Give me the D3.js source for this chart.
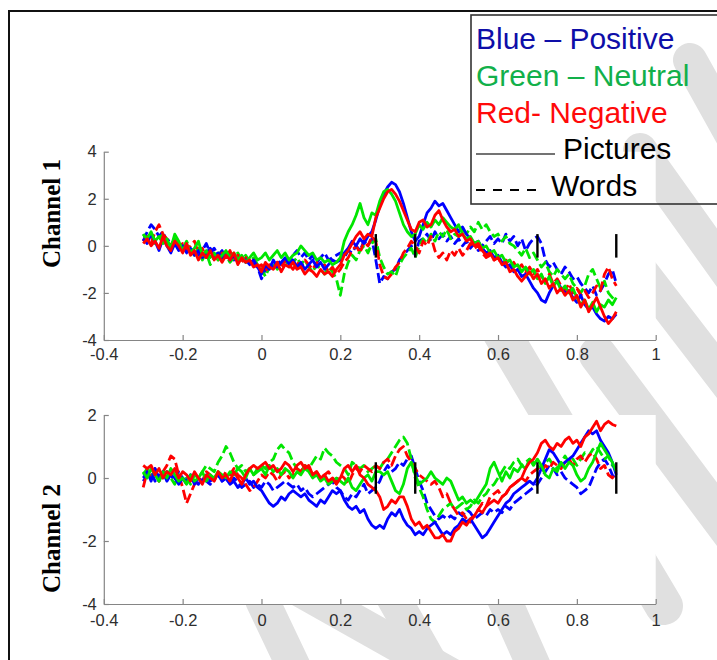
<!DOCTYPE html>
<html>
<head>
<meta charset="utf-8">
<script src="https://cdn.jsdelivr.net/npm/d3@7"></script>
<style>
  html, body { margin: 0; padding: 0; background: #fff; }
  svg { display: block; }
</style>
</head>
<body>
<svg id="chart" width="717" height="660"></svg>
<script>
// Time axis (s): samples every 10 ms from -0.3 to 0.9
const sampleStart = -0.3;
const sampleStep = 0.01;

// Channel 1 – pictures (solid)
const ch1PositivePictures = [
  0.3, 0.1, 0.5, 0.2, -0.2, 0.3, 0.0, -0.3, 0.1, -0.2,
  0.0, -0.3, -0.1, -0.4, -0.2, -0.5, -0.3, -0.1, -0.4, -0.3,
  -0.5, -0.3, -0.6, -0.4, -0.7, -0.5, -0.6, -0.8, -0.6, -0.9,
  -1.2, -0.8, -1.0, -0.6, -0.9, -0.7, -0.5, -0.8, -0.6, -0.9,
  -0.7, -1.0, -0.8, -0.6, -0.9, -0.7, -1.0, -0.8, -0.6, -0.7,
  -0.6, -0.3, -0.1, 0.2, 0.0, 0.3, 0.1, 0.4, 0.6, 1.1,
  1.7, 2.2, 2.5, 2.7, 2.6, 2.3, 1.8, 1.2, 0.6, 0.2,
  0.4, 0.9, 1.4, 1.6, 1.9, 1.7, 1.8, 1.5, 1.2, 0.9,
  0.6, 0.8, 0.5, 0.3, 0.1, 0.2, -0.1, -0.3, -0.2, -0.5,
  -0.4, -0.7, -0.9, -0.8, -1.1, -1.0, -1.3, -1.2, -1.5, -1.8,
  -2.0, -2.3, -2.4, -2.0, -1.7, -1.5, -1.8, -2.0, -1.9, -2.2,
  -2.4, -2.1, -2.5, -2.7, -2.6, -2.9, -3.1, -3.2, -3.0, -3.1,
  -2.9
];
const ch1NeutralPictures = [
  0.5, 0.3, 0.6, 0.2, 0.4, 0.1, 0.3, -0.1, 0.5, 0.2,
  -0.2, 0.1, -0.3, -0.1, 0.2, -0.4, -0.2, -0.5, -0.3, -0.6,
  -0.4, -0.2, -0.5, -0.3, -0.6, -0.4, -0.7, -0.5, -0.3, -0.6,
  -0.5, -0.3, -0.6, -0.4, -0.2, -0.5, -0.3, -0.6, -0.4, -0.3,
  0.0, -0.2, -0.4, -0.3, -0.6, -0.5, -0.7, -0.6, -0.8, -0.7,
  -0.5, 0.2, 0.6, 0.9, 1.3, 1.8, 1.2, 0.9, 1.4, 1.3,
  1.9, 2.3, 2.4, 2.2, 1.9, 1.4, 0.9, 0.6, 0.4, 0.5,
  0.9, 0.7, 1.0, 0.8, 1.1, 0.9, 1.2, 1.0, 0.8, 0.7,
  0.9, 0.5, 0.3, 0.4, 0.1, 0.2, -0.1, 0.0, -0.3, -0.2,
  -0.5, -0.4, -0.7, -0.6, -0.9, -0.8, -1.1, -0.9, -1.2, -1.0,
  -1.4, -1.2, -1.6, -1.3, -1.7, -1.5, -1.9, -1.7, -2.0, -1.8,
  -2.2, -2.5, -2.3, -2.7, -2.4, -2.8, -2.5, -2.6, -2.3, -2.5,
  -2.2
];
const ch1NegativePictures = [
  0.1, 0.3, 0.0, 0.2, -0.1, 0.4, 0.0, -0.2, 0.2, 0.0,
  -0.3, 0.1, -0.4, -0.2, -0.6, -0.3, -0.5, -0.2, -0.6, -0.4,
  -0.7, -0.4, -0.6, -0.3, -0.8, -0.5, -0.7, -0.6, -0.9, -0.8,
  -1.1, -0.7, -0.9, -1.0, -0.7, -1.1, -0.8, -0.9, -0.7, -1.0,
  -0.9, -1.2, -1.0, -1.1, -1.3, -1.0, -1.2, -1.1, -1.3, -1.0,
  -0.8, -0.4, -0.2, 0.1, 0.4, 0.6, 0.3, 0.5, 0.4, 1.2,
  1.6, 2.0, 2.3, 2.4, 2.2, 1.9, 1.5, 1.1, 0.7, 0.6,
  1.0, 1.1, 0.8, 0.9, 1.3, 1.5, 1.1, 0.8, 0.6, 0.7,
  0.4, 0.5, 0.2, 0.3, 0.0, 0.1, -0.2, -0.4, -0.3, -0.6,
  -0.5, -0.8, -0.7, -1.1, -1.0, -1.3, -1.5, -1.3, -1.1, -1.4,
  -1.2, -1.6, -1.4, -1.8, -1.6, -2.0, -1.8, -2.1, -1.9, -2.3,
  -2.1, -2.6, -2.3, -2.8, -2.5, -2.2, -2.6, -3.0, -3.3, -3.1,
  -2.8
];

// Channel 1 – words (dashed)
const ch1PositiveWords = [
  0.2, 0.6, 0.9, 0.7, 0.4, 0.6, 0.2, 0.3, 0.0, 0.1,
  -0.2, 0.0, -0.3, -0.1, -0.4, -0.2, 0.1, -0.3, -0.1, -0.4,
  -0.2, -0.5, -0.3, -0.6, -0.4, -0.5, -0.7, -0.5, -0.8, -0.9,
  -1.4, -1.0, -0.7, -0.9, -0.6, -0.8, -0.5, -0.7, -0.4, -0.2,
  -0.5, -0.3, -0.6, -0.4, -0.7, -0.5, -0.3, -0.6, -0.5, -0.4,
  -0.3, -0.5, -0.2, -0.3, 0.0, -0.2, 0.2, 0.0, 0.3, -0.6,
  -1.6, -1.3, -1.4, -1.1, -1.0, -0.6, -0.4, -0.2, 0.0, -0.4,
  0.2, 0.3, 0.5, 0.2, 0.6, 0.3, 0.5, 0.2, 0.4, 0.1,
  0.3, 0.0, 0.2, -0.1, 0.1, -0.2, 0.0, 0.2, 0.4, 0.1,
  0.3, 0.1, 0.5, 0.2, 0.4, 0.0, 0.3, -0.2, 0.1, 0.3,
  0.4, 0.1, -0.6, -0.9, -0.7, -1.0, -1.2, -0.9, -1.1, -1.4,
  -1.3, -1.6, -1.8, -2.0, -1.7, -2.1, -1.9, -1.6, -1.2, -1.0,
  -1.6
];
const ch1NeutralWords = [
  0.5, 0.2, 0.4, 0.1, 0.3, 0.5, 0.2, 0.0, 0.3, 0.1,
  -0.1, 0.2, -0.2, -0.4, -0.1, -0.6, -0.3, -0.8, -0.5, -0.3,
  -0.6, -0.4, -0.7, -0.5, -0.3, -0.6, -0.4, -0.7, -0.5, -0.8,
  -1.0, -1.3, -0.9, -0.7, -1.0, -0.8, -0.6, -0.9, -0.7, -0.5,
  -0.8, -0.6, -0.9, -1.1, -0.8, -1.0, -1.2, -0.9, -1.1, -1.4,
  -2.1, -1.2, -0.7, -0.4, -0.6, -0.2, 0.0, -0.3, 0.1, 0.3,
  -0.5, -0.9, -1.2, -1.1, -1.3, -0.8, -0.5, -0.3, -0.1, -0.5,
  0.0, 0.3, 0.1, 0.5, 0.2, 0.6, 0.4, 0.7, 0.3, 0.5,
  0.4, 0.7, 0.5, 0.8, 0.6, 1.0, 0.7, 0.9, 0.6, 0.4,
  0.5, 0.2, 0.4, 0.1, 0.0, -0.2, -0.4, -0.1, -0.5, -0.3,
  -0.6, -0.9, -0.7, -1.1, -1.3, -1.0, -1.2, -1.4, -1.2, -1.6,
  -1.8, -2.0, -1.7, -1.2, -1.0, -1.4, -1.8, -1.5, -2.0, -2.2,
  -2.3
];
const ch1NegativeWords = [
  0.2, 0.4, 0.1, 0.6, 0.9, 0.5, 0.3, 0.0, 0.2, -0.1,
  0.1, -0.2, 0.0, 0.2, -0.3, -0.1, -0.5, -0.2, -0.4, -0.6,
  -0.3, -0.5, -0.2, -0.6, -0.4, -0.7, -0.5, -0.8, -0.6, -0.9,
  -0.8, -1.1, -0.8, -1.0, -0.7, -0.9, -0.6, -0.8, -1.0, -0.7,
  -0.9, -0.6, -0.8, -1.0, -0.7, -0.9, -0.8, -1.1, -0.9, -1.2,
  -1.0, -0.7, -0.5, -0.2, 0.0, -0.3, 0.2, 0.0, 0.4, 0.2,
  -0.8, -1.3, -1.4, -1.2, -0.9, -0.7, -0.3, -0.1, 0.2, 0.0,
  -0.3, 0.2, 0.0, 0.4, -0.2, -0.5, -0.3, -0.6, -0.2, -0.4,
  -0.1, -0.4, -0.2, 0.1, -0.1, 0.0, -0.3, -0.5, -0.4, -0.6,
  -0.5, -0.8, -0.6, -0.9, -0.7, -1.0, -0.8, -1.1, -0.9, -1.2,
  -1.0, -1.3, -1.5, -1.2, -1.6, -1.4, -1.7, -1.9, -1.6, -2.0,
  -1.8, -2.1, -1.9, -2.2, -2.0, -1.7, -1.9, -1.2, -0.9, -1.4,
  -1.7
];

// Channel 2 – pictures (solid)
const ch2PositivePictures = [
  0.0, 0.2, -0.1, 0.3, 0.0, 0.2, -0.1, 0.1, 0.0, -0.2,
  0.0, -0.1, 0.1, -0.2, 0.0, -0.1, 0.1, -0.1, 0.0, 0.1,
  -0.1, 0.0, -0.2, -0.1, -0.3, -0.2, 0.0, -0.2, -0.1, -0.3,
  -0.4, -0.6, -0.8, -0.9, -0.8, -0.6, -0.7, -0.5, -0.4, -0.5,
  -0.6, -0.5, -0.7, -0.8, -0.9, -0.7, -0.8, -0.6, -0.4, -0.5,
  -0.4, -0.7, -0.9, -1.0, -0.9, -1.1, -1.0, -1.3, -1.5, -1.6,
  -1.5, -1.6, -1.3, -1.1, -1.2, -1.0, -1.3, -1.5, -1.6, -1.8,
  -1.7, -1.8, -1.6, -1.5, -1.4, -1.6, -1.8, -1.7, -1.8, -1.6,
  -1.5, -1.3, -1.4, -1.3, -1.5, -1.7, -1.9, -1.8, -1.6, -1.4,
  -1.2, -1.0, -0.8, -0.7, -0.5, -0.4, -0.3, -0.2, -0.1, -0.2,
  0.0, 0.3, 0.6, 0.9, 0.8, 0.6, 0.4, 0.5, 0.6, 0.7,
  0.9, 1.1, 1.3, 1.5, 1.4, 1.5, 1.2, 1.0, 0.8, 0.5,
  0.1
];
const ch2NeutralPictures = [
  0.2, 0.0, 0.3, 0.1, -0.1, 0.2, 0.0, 0.3, 0.1, -0.1,
  0.0, -0.2, 0.1, -0.1, 0.0, 0.2, -0.1, 0.1, 0.0, 0.2,
  0.1, 0.0, 0.2, 0.1, 0.3, 0.2, 0.0, 0.3, 0.1, 0.2,
  0.3, 0.1, 0.4, 0.2, 0.3, 0.1, 0.3, 0.2, 0.0, 0.2,
  0.1, 0.3, 0.2, 0.0, 0.1, -0.1, 0.0, -0.2, -0.1, 0.0,
  -0.1, -0.2, 0.0, -0.3, -0.4, -0.2, 0.0, 0.1, -0.1, 0.2,
  0.2, 0.1, 0.2, -0.1, -0.4, -0.5, -0.2, 0.3, 0.5, 0.1,
  -0.2, -0.1, 0.0, 0.2, 0.0, -0.1, -0.2, 0.0, -0.1, -0.4,
  -0.7, -0.6, -0.8, -0.7, -0.8, -0.6, -0.4, -0.2, 0.3, 0.5,
  0.2, -0.1, 0.2, 0.0, 0.3, 0.2, 0.4, 0.3, 0.6, 0.4,
  0.6, 0.4, 0.1, 0.0, 0.3, 0.2, 0.5, 0.3, 0.5, 0.4,
  0.1, -0.1, 0.0, 0.3, 0.5, 0.8, 1.1, 0.9, 0.7, 0.5,
  0.2
];
const ch2NegativePictures = [
  0.4, 0.3, 0.4, 0.1, 0.3, 0.0, 0.2, 0.1, 0.3, 0.0,
  0.2, 0.1, -0.1, 0.2, 0.0, -0.2, 0.1, 0.0, -0.1, 0.2,
  0.0, 0.1, -0.1, 0.2, 0.0, -0.2, 0.1, 0.3, 0.4, 0.3,
  0.4, 0.5, 0.3, 0.4, 0.2, 0.3, 0.5, 0.4, 0.2, 0.4,
  0.5, 0.3, 0.4, 0.1, 0.2, 0.0, 0.1, -0.1, 0.0, -0.2,
  0.0, 0.3, 0.4, 0.2, 0.4, 0.1, 0.0, -0.2, -0.3, -0.4,
  -0.6, -1.0, -0.9, -0.7, -0.8, -0.6, -0.6, -0.9, -1.3, -1.5,
  -1.4, -1.6, -1.5, -1.7, -1.9, -1.9, -1.8, -2.0, -2.0, -1.7,
  -1.6, -1.4, -1.5, -1.3, -1.2, -1.0, -1.1, -0.9, -0.8, -0.7,
  -0.8, -0.6, -0.5, -0.3, -0.2, -0.1, 0.0, 0.3, 0.5, 0.6,
  0.8, 1.1, 1.2, 1.0, 0.9, 1.1, 1.0, 1.2, 1.3, 1.1,
  1.2, 1.0, 1.3, 1.4, 1.6, 1.8, 1.5, 1.7, 1.8, 1.7,
  1.65
];

// Channel 2 – words (dashed)
const ch2PositiveWords = [
  -0.1, 0.1, 0.2, -0.1, 0.1, 0.0, 0.2, 0.1, -0.1, 0.2,
  0.0, -0.2, 0.1, -0.1, -0.2, 0.0, -0.1, -0.2, 0.0, 0.1,
  -0.1, 0.0, -0.2, 0.0, -0.1, -0.3, -0.2, -0.1, -0.3, -0.2,
  -0.3, -0.1, -0.2, -0.4, -0.3, -0.2, -0.1, -0.2, -0.3, -0.2,
  -0.4, -0.3, -0.5, -0.6, -0.5, -0.4, -0.3, -0.2, -0.1, -0.3,
  -0.4, -0.6, -0.7, -0.5, -0.6, -0.4, -0.2, -0.5, -0.4, -0.3,
  -0.1, 0.2, 0.4, 0.2, 0.3, 0.5, 0.4, 0.6, 0.7, 0.3,
  -0.1, -0.4, -0.8, -1.0, -1.2, -1.3, -1.2, -1.3, -1.2, -1.3,
  -1.1, -1.2, -1.0, -1.1, -1.3, -1.2, -1.1, -1.2, -1.0, -1.1,
  -1.0, -1.1, -0.9, -1.0, -0.8, -0.7, -0.6, -0.5, -0.4, -0.3,
  -0.2, 0.0, 0.2, 0.4, 0.3, 0.1, 0.2, 0.0, -0.1, -0.2,
  -0.3, -0.5, -0.4, -0.3, 0.0, 0.3, 0.5, 0.6, 0.4, 0.1,
  -0.05
];
const ch2NeutralWords = [
  0.1, 0.3, 0.0, 0.2, -0.1, 0.1, 0.2, 0.0, -0.2, 0.1,
  -0.1, 0.0, -0.2, 0.1, 0.0, 0.2, 0.4, 0.3, 0.2, 0.5,
  0.7, 1.0, 0.8, 0.5, 0.3, 0.4, 0.2, 0.3, 0.1, 0.3,
  0.4, 0.3, 0.5, 0.6, 0.9, 1.05, 0.9, 0.8, 0.5, 0.3,
  0.2, 0.4, 0.3, 0.5, 0.7, 0.6, 0.95, 0.8, 0.7, 0.5,
  0.4, 0.3, 0.1, 0.5, 0.4, 0.3, 0.4, 0.2, 0.3, 0.4,
  0.3, 0.5, 0.6, 0.8, 1.0, 1.2, 1.3, 1.1, 0.6, 0.0,
  -0.3, -0.6, -1.0, -1.3, -1.4, -1.2, -1.0, -0.9, -0.8, -1.0,
  -0.9, -0.8, -1.0, -0.9, -0.7, -0.8, -0.6, -0.5, -0.3, -0.2,
  0.0, 0.2, 0.4, 0.3, 0.5, 0.6, 0.4, 0.5, 0.6, 0.5,
  0.4, 0.3, 0.5, 0.6, 0.4, 0.3, 0.5, 0.7, 0.5, 0.6,
  0.4, 0.6, 0.8, 0.7, 0.9, 1.0, 0.8, 0.6, 0.7, 0.4,
  0.3
];
const ch2NegativeWords = [
  -0.3, 0.2, 0.0, 0.3, -0.1, 0.2, 0.4, 0.7, 0.6, 0.1,
  -0.3, -0.8, -0.5, -0.2, 0.0, -0.1, 0.2, 0.1, -0.1, 0.2,
  0.0, 0.2, 0.1, 0.3, 0.1, 0.0, -0.2, -0.4, -0.3, -0.1,
  0.1, 0.0, 0.2, 0.1, -0.1, 0.1, 0.2, 0.0, 0.1, 0.3,
  0.2, 0.4, 0.3, 0.1, 0.2, 0.0, 0.1, 0.2, 0.0, -0.1,
  0.1, 0.0, -0.2, 0.1, 0.3, 0.2, 0.4, 0.3, 0.2, 0.4,
  0.3, 0.5, 0.6, 0.4, 0.7, 0.9, 1.0, 0.7, 0.5, 0.3,
  0.1, 0.0, -0.1, -0.2, -0.1, -0.3, -0.6, -0.5, -0.8, -1.0,
  -1.2, -1.1, -1.3, -1.4, -1.2, -1.0, -0.8, -0.9, -0.6, -0.5,
  -0.4, -0.6, -0.5, -0.3, -0.2, -0.1, 0.0, -0.1, 0.1, 0.2,
  0.3, 0.2, 0.4, 0.3, 0.5, 0.4, 0.3, 0.5, 0.6, 0.4,
  0.6, 0.7, 0.5, 0.7, 0.8, 0.6, 0.3, 0.4, 0.1, 0.0,
  0.2
];

// Event markers (s)
const markerTimes = [0.29, 0.39, 0.70, 0.90];

// Axis ticks
const xTickValues = [-0.4, -0.2, 0, 0.2, 0.4, 0.6, 0.8, 1];
const xTickLabels = ["-0.4", "-0.2", "0", "0.2", "0.4", "0.6", "0.8", "1"];
const ch1YTicks = [-4, -2, 0, 2, 4];
const ch2YTicks = [-4, -2, 0, 2];

// Legend entries
const legendColourRows = [
  { text: "Blue \u2013 Positive", color: "#0e0ea8" },
  { text: "Green \u2013 Neutral", color: "#12b04a" },
  { text: "Red- Negative", color: "#ff0a0a" }
];
const legendStyleRows = [
  { text: "Pictures", dashed: false },
  { text: "Words", dashed: true }
];

const COLORS = { positive: "#0000ff", neutral: "#00e600", negative: "#ff0000" };

const svg = d3.select("#chart");
const times = ch1PositivePictures.map((_, i) => sampleStart + i * sampleStep);

// Figure frame
svg.append("path")
  .attr("d", "M9,660 V11 H717")
  .attr("fill", "none").attr("stroke", "#111").attr("stroke-width", 2);

// Faint diagonal background bands
const bands = svg.append("g").attr("fill", "none").attr("stroke", "#e0e0e0")
  .attr("stroke-linecap", "round");
[
  [[690, 60], [740, 150], 34],
  [[640, 150], [740, 290], 34],
  [[640, 270], [740, 400], 34],
  [[598, 355], [740, 545], 38],
  [[500, 330], [664, 606], 38],
  [[372, 560], [440, 680], 34],
  [[262, 600], [300, 680], 34],
  [[300, 590], [460, 680], 34],
  [[500, 590], [540, 680], 34]
].forEach(([a, b, w]) => {
  bands.append("line").attr("x1", a[0]).attr("y1", a[1]).attr("x2", b[0]).attr("y2", b[1])
    .attr("stroke-width", w);
});

const x = d3.scaleLinear().domain([-0.4, 1]).range([103.8, 655.7]);

function panel(yScale, yTicks, series, labelText, labelY, xLabelBaseline) {
  const [y0, y1] = yScale.range();
  const g = svg.append("g");
  // white plot area
  g.append("rect").attr("x", x.range()[0]).attr("y", y1)
    .attr("width", x.range()[1] - x.range()[0]).attr("height", y0 - y1)
    .attr("fill", "#fff");

  const line = d3.line().x((d, i) => x(times[i])).y(d => yScale(d));
  series.forEach(s => {
    g.append("path").datum(s.values)
      .attr("d", line)
      .attr("fill", "none")
      .attr("stroke", s.color)
      .attr("stroke-width", 2.8)
      .attr("stroke-linejoin", "round")
      .attr("stroke-dasharray", s.dashed ? "10,4" : null);
  });

  // event markers
  g.selectAll("line.marker").data(markerTimes).join("line")
    .attr("class", "marker")
    .attr("x1", d => x(d)).attr("x2", d => x(d))
    .attr("y1", yScale(0.5)).attr("y2", yScale(-0.5))
    .attr("stroke", "#000").attr("stroke-width", 2.4);

  // axes
  const ax = g.append("g").attr("transform", `translate(0,${y0})`)
    .call(d3.axisBottom(x).tickValues(xTickValues)
      .tickFormat((d, i) => xTickLabels[i]).tickSize(-5).tickSizeOuter(0));
  ax.selectAll("text").attr("y", null).attr("dy", null)
    .attr("transform", `translate(0,${xLabelBaseline - y0})`);
  const ay = g.append("g").attr("transform", `translate(${x.range()[0]},0)`)
    .call(d3.axisLeft(yScale).tickValues(yTicks).tickFormat(d => String(d))
      .tickSize(-5).tickSizeOuter(0));
  ay.selectAll("text").attr("x", -7);
  [ax, ay].forEach(a => {
    a.select(".domain").attr("stroke", "#858585").attr("stroke-width", 1.2);
    a.selectAll(".tick line").attr("stroke", "#858585").attr("stroke-width", 1.2);
    a.selectAll("text").attr("fill", "#2e2e2e")
      .style("font-family", "'Liberation Sans', Arial, sans-serif").style("font-size", "16.5px");
  });

  svg.append("text")
    .attr("transform", `translate(60,${labelY}) rotate(-90)`)
    .attr("text-anchor", "middle")
    .style("font-family", "'Liberation Serif', 'Times New Roman', serif")
    .style("font-weight", "bold").style("font-size", "25px")
    .attr("fill", "#000")
    .text(labelText);
}

const y1 = d3.scaleLinear().domain([-4, 4]).range([340, 151.7]);
const y2 = d3.scaleLinear().domain([-4, 2]).range([604, 415]);

panel(y1, ch1YTicks, [
  { values: ch1PositiveWords, color: COLORS.positive, dashed: true },
  { values: ch1NeutralWords, color: COLORS.neutral, dashed: true },
  { values: ch1NegativeWords, color: COLORS.negative, dashed: true },
  { values: ch1PositivePictures, color: COLORS.positive, dashed: false },
  { values: ch1NeutralPictures, color: COLORS.neutral, dashed: false },
  { values: ch1NegativePictures, color: COLORS.negative, dashed: false }
], "Channel 1", 213.5, 360);

panel(y2, ch2YTicks, [
  { values: ch2PositiveWords, color: COLORS.positive, dashed: true },
  { values: ch2NeutralWords, color: COLORS.neutral, dashed: true },
  { values: ch2NegativeWords, color: COLORS.negative, dashed: true },
  { values: ch2PositivePictures, color: COLORS.positive, dashed: false },
  { values: ch2NeutralPictures, color: COLORS.neutral, dashed: false },
  { values: ch2NegativePictures, color: COLORS.negative, dashed: false }
], "Channel 2", 538.5, 626);

// Legend
const lg = svg.append("g");
lg.append("rect").attr("x", 471).attr("y", 15).attr("width", 260).attr("height", 189)
  .attr("fill", "none").attr("stroke", "#333").attr("stroke-width", 1.6);
const legendFont = "'Liberation Sans', Arial, sans-serif";
legendColourRows.forEach((r, i) => {
  lg.append("text").attr("x", 476).attr("y", 49 + i * 37)
    .attr("fill", r.color).style("font-family", legendFont).style("font-size", "30px")
    .text(r.text);
});
legendStyleRows.forEach((r, i) => {
  const yy = 159 + i * 37;
  const ly = yy - 5 + (r.dashed ? -1 : 0);
  if (r.dashed) {
    lg.append("line").attr("x1", 476).attr("x2", 542).attr("y1", ly).attr("y2", ly)
      .attr("stroke", "#000").attr("stroke-width", 2).attr("stroke-dasharray", "9,8");
  } else {
    lg.append("line").attr("x1", 476).attr("x2", 555).attr("y1", ly).attr("y2", ly)
      .attr("stroke", "#444").attr("stroke-width", 1.4);
  }
  lg.append("text").attr("x", r.dashed ? 551 : 563).attr("y", yy)
    .attr("fill", "#000").style("font-family", legendFont).style("font-size", "30px")
    .text(r.text);
});
</script>
</body>
</html>
